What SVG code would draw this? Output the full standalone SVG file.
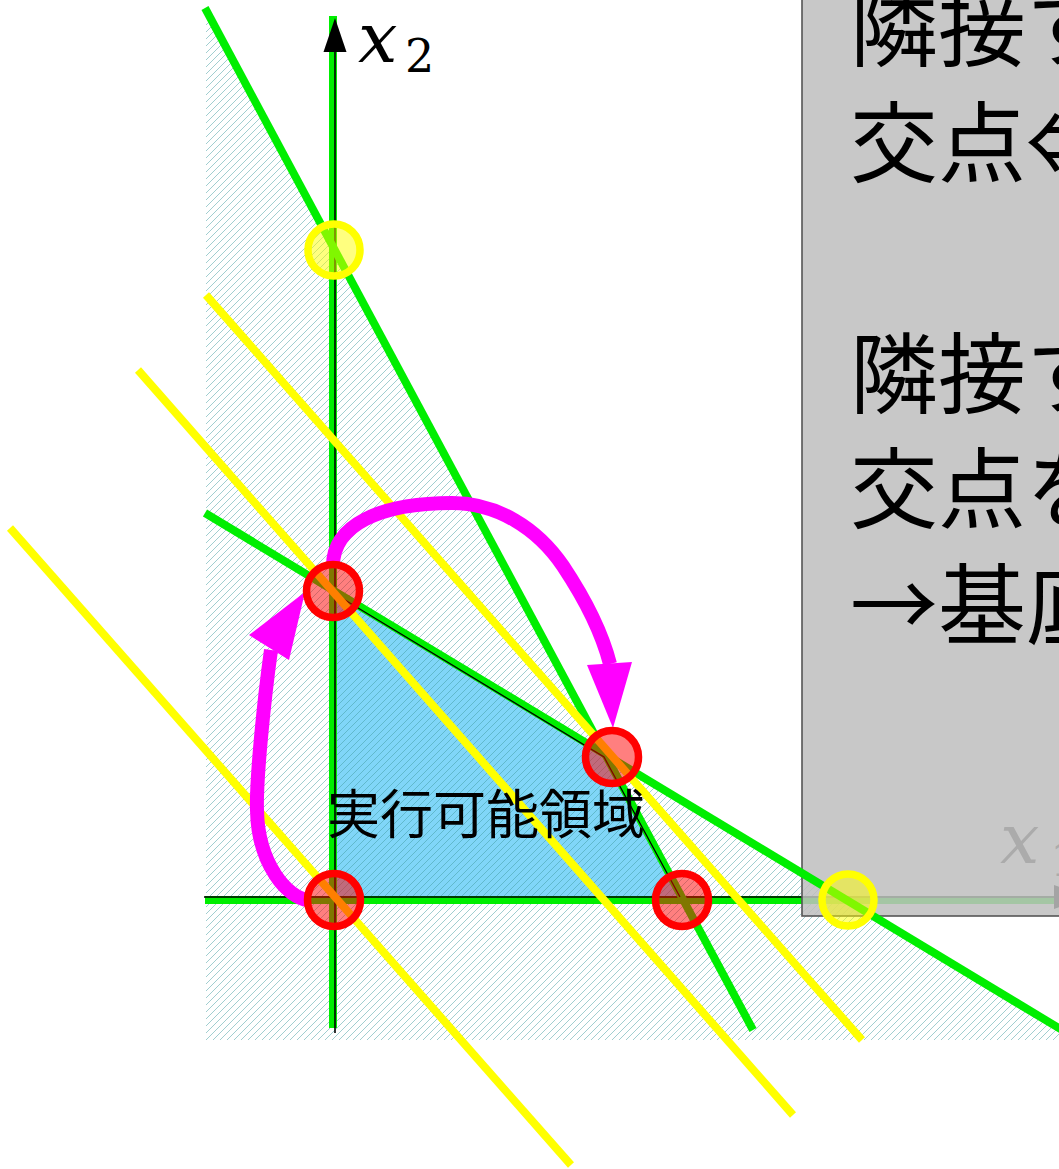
<svg xmlns="http://www.w3.org/2000/svg" width="1059" height="1169" viewBox="0 0 1059 1169">
<defs>
<pattern id="hatch" patternUnits="userSpaceOnUse" width="7" height="7">
<path d="M-1,1 L1,-1 M0,7 L7,0 M6,8 L8,6" stroke="#3f9ca0" stroke-width="0.9" stroke-opacity="0.55"/>
</pattern>
<style>
.g{stroke:#00ee00;stroke-width:8;fill:none}
.y{stroke:#ffff00;stroke-width:8;fill:none}
.ax{stroke:#000;stroke-width:1.6;fill:none}
.mg{stroke:#ff00ff;stroke-width:14;fill:none}
.mh{fill:#ff00ff}
.rc{fill:rgba(255,0,0,0.5);stroke:#ff0000;stroke-width:7.5}
.yc{fill:rgba(255,255,0,0.5);stroke:#ffff00;stroke-width:7.5}
.jp{font-family:"Noto Sans CJK JP","Noto Sans CJK SC",sans-serif;fill:#000}
.m{font-family:"DejaVu Serif","Liberation Serif",serif;font-style:italic}
.n{font-family:"DejaVu Serif","Liberation Serif",serif}
</style>
</defs>
<rect width="1059" height="1169" fill="#fff"/>

<g id="feasible-region">
<polygon points="333,591 605,754 683,900 333,900" fill="#80d6f8"/>
</g>
<g id="hatch-region">
<polygon points="205,8 605,754 1059,1028 1059,1040 206,1040 206,8" fill="url(#hatch)"/>
</g>

<g id="axes">
<line x1="333" y1="16" x2="333" y2="1028" class="g" stroke-width="7"/>
<line x1="205" y1="900" x2="1059" y2="900" class="g" stroke-width="7"/>
<line x1="335" y1="45" x2="335" y2="1033" class="ax"/>
<polygon points="335,18 323.5,52 346.5,52" fill="#000"/>
<line x1="204" y1="897" x2="1059" y2="897" class="ax"/>
<polygon points="1054,885 1054,909 1090,897" fill="#000"/>
<text class="m" x="1000" y="863" font-size="70" fill="#333">x</text>
<text class="n" x="1050" y="876" font-size="46" fill="#333">1</text>
</g>

<g id="info-box">
<rect x="802" y="-20" width="300" height="936" fill="rgb(191,191,191)" fill-opacity="0.86" stroke="#555" stroke-width="1.6"/>
</g>

<g id="connectors">
<line x1="205" y1="8" x2="753" y2="1030" class="g"/>
<line x1="205" y1="513" x2="1062" y2="1030" class="g"/>
<path d="M335,594 L604,757 L680,897" stroke="#000" stroke-width="1.3" fill="none"/>
<line x1="10" y1="528" x2="571" y2="1165" class="y"/>
<line x1="138" y1="370" x2="793" y2="1115" class="y"/>
<line x1="206" y1="295" x2="862" y2="1040" class="y"/>
<path d="M308,900 C288,898 258,865 257,810 C256,780 264,700 271,650" class="mg"/>
<polygon points="305,592 249,635 289,660" class="mh"/>
<path d="M333,566 C333,525 380,503 452,503 C497,503 537,528 563,566 C583,596 601,629 610,664" class="mg"/>
<polygon points="587,665 632,662 613,728" class="mh"/>
</g>

<g id="vertices">
<circle cx="333" cy="591" r="26.5" class="rc"/>
<circle cx="612" cy="757" r="26.5" class="rc"/>
<circle cx="682" cy="900" r="26.5" class="rc"/>
<circle cx="334" cy="900" r="26.5" class="rc"/>
<circle cx="334" cy="250" r="26" class="yc"/>
<circle cx="848" cy="900" r="26" class="yc"/>
</g>

<g id="labels">
<text class="m" x="358" y="62" font-size="70">x</text>
<text class="n" x="405" y="72" font-size="46">2</text>
<text class="jp" x="327" y="834" font-size="53">実行可能領域</text>
</g>

<g id="box-text" class="jp" font-size="88">
<text x="850" y="59">隣接す</text>
<text x="850" y="175">交点⇔</text>
<text x="850" y="406">隣接す</text>
<text x="850" y="521">交点を</text>
<text x="850" y="637">→基底</text>
</g>
</svg>
